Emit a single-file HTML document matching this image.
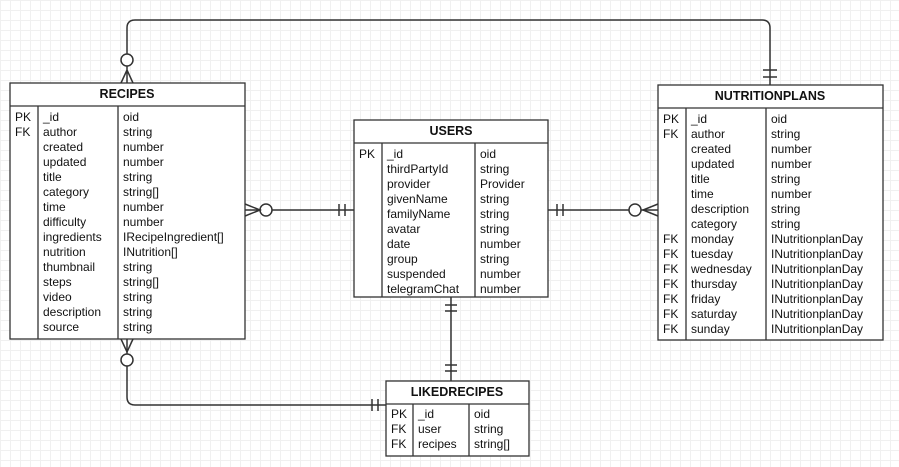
<!DOCTYPE html>
<html><head><meta charset="utf-8"><style>
html,body{margin:0;padding:0;width:899px;height:467px;overflow:hidden;background:#fff;
background-image:linear-gradient(#f0f0f0 1px,transparent 1px),linear-gradient(90deg,#f0f0f0 1px,transparent 1px);background-size:10px 10px;}
svg text{font-family:"Liberation Sans",Arial,sans-serif;font-size:12px;fill:#111;}
svg text.t{font-weight:bold;font-size:12.5px;}
</style></head><body>
<svg width="899" height="467" xmlns="http://www.w3.org/2000/svg">
<g fill="none" stroke="#333" stroke-width="1.5">
<!-- top connector -->
<path d="M127,54 V28 Q127,20 135,20 H762 Q770,20 770,28 V85"/>
<circle cx="127" cy="60" r="6" fill="#fff"/>
<path d="M127,66 V83 M127,70 L121,83 M127,70 L133,83"/>
<path d="M763,70 H777 M763,77 H777"/>
<!-- recipes-users -->
<path d="M245,210 H260 M272,210 H354"/>
<circle cx="266" cy="210" r="6" fill="#fff"/>
<path d="M245,204 L260,210 L245,216"/>
<path d="M339,204 V216 M345,204 V216"/>
<!-- users-nutrition -->
<path d="M548,210 H629 M641,210 H658"/>
<circle cx="635" cy="210" r="6" fill="#fff"/>
<path d="M658,204 L643,210 L658,216"/>
<path d="M557,204 V216 M563,204 V216"/>
<!-- users-liked -->
<path d="M451,297 V381"/>
<path d="M445,305 H457 M445,311 H457 M445,365 H457 M445,371 H457"/>
<!-- recipes-liked -->
<path d="M127,339 V354 M127,366 V397 Q127,405 135,405 H386"/>
<circle cx="127" cy="360" r="6" fill="#fff"/>
<path d="M121,339 L127,352 L133,339"/>
<path d="M372,399 V411 M378,399 V411"/>
</g>
<g fill="#fff" stroke="#333" stroke-width="1.3">
<rect x="10" y="83" width="235" height="256"/>
<rect x="658" y="85" width="225" height="255"/>
<rect x="354" y="120" width="194" height="177"/>
<rect x="386" y="381" width="143" height="75"/>
</g>
<g stroke="#333" stroke-width="1.3">
<path d="M10,106 H245 M38,106 V339 M118,106 V339"/>
<path d="M658,108 H883 M686,108 V340 M766,108 V340"/>
<path d="M354,143 H548 M382,143 V297 M475,143 V297"/>
<path d="M386,404 H529 M413,404 V456 M469,404 V456"/>
</g>
<text class="t" x="127" y="98" text-anchor="middle">RECIPES</text>
<text class="t" x="770" y="100" text-anchor="middle">NUTRITIONPLANS</text>
<text class="t" x="451" y="135" text-anchor="middle">USERS</text>
<text class="t" x="457" y="396" text-anchor="middle">LIKEDRECIPES</text>
<!-- RECIPES -->
<text x="15" y="121">PK</text><text x="15" y="136">FK</text>
<text x="43" y="121">_id</text><text x="43" y="136">author</text><text x="43" y="151">created</text><text x="43" y="166">updated</text><text x="43" y="181">title</text><text x="43" y="196">category</text><text x="43" y="211">time</text><text x="43" y="226">difficulty</text><text x="43" y="241">ingredients</text><text x="43" y="256">nutrition</text><text x="43" y="271">thumbnail</text><text x="43" y="286">steps</text><text x="43" y="301">video</text><text x="43" y="316">description</text><text x="43" y="331">source</text>
<text x="123" y="121">oid</text><text x="123" y="136">string</text><text x="123" y="151">number</text><text x="123" y="166">number</text><text x="123" y="181">string</text><text x="123" y="196">string[]</text><text x="123" y="211">number</text><text x="123" y="226">number</text><text x="123" y="241">IRecipeIngredient[]</text><text x="123" y="256">INutrition[]</text><text x="123" y="271">string</text><text x="123" y="286">string[]</text><text x="123" y="301">string</text><text x="123" y="316">string</text><text x="123" y="331">string</text>
<!-- NUTRITIONPLANS -->
<text x="663" y="123">PK</text><text x="663" y="138">FK</text><text x="663" y="243">FK</text><text x="663" y="258">FK</text><text x="663" y="273">FK</text><text x="663" y="288">FK</text><text x="663" y="303">FK</text><text x="663" y="318">FK</text><text x="663" y="333">FK</text>
<text x="691" y="123">_id</text><text x="691" y="138">author</text><text x="691" y="153">created</text><text x="691" y="168">updated</text><text x="691" y="183">title</text><text x="691" y="198">time</text><text x="691" y="213">description</text><text x="691" y="228">category</text><text x="691" y="243">monday</text><text x="691" y="258">tuesday</text><text x="691" y="273">wednesday</text><text x="691" y="288">thursday</text><text x="691" y="303">friday</text><text x="691" y="318">saturday</text><text x="691" y="333">sunday</text>
<text x="771" y="123">oid</text><text x="771" y="138">string</text><text x="771" y="153">number</text><text x="771" y="168">number</text><text x="771" y="183">string</text><text x="771" y="198">number</text><text x="771" y="213">string</text><text x="771" y="228">string</text><text x="771" y="243">INutritionplanDay</text><text x="771" y="258">INutritionplanDay</text><text x="771" y="273">INutritionplanDay</text><text x="771" y="288">INutritionplanDay</text><text x="771" y="303">INutritionplanDay</text><text x="771" y="318">INutritionplanDay</text><text x="771" y="333">INutritionplanDay</text>
<!-- USERS -->
<text x="359" y="158">PK</text>
<text x="387" y="158">_id</text><text x="387" y="173">thirdPartyId</text><text x="387" y="188">provider</text><text x="387" y="203">givenName</text><text x="387" y="218">familyName</text><text x="387" y="233">avatar</text><text x="387" y="248">date</text><text x="387" y="263">group</text><text x="387" y="278">suspended</text><text x="387" y="293">telegramChat</text>
<text x="480" y="158">oid</text><text x="480" y="173">string</text><text x="480" y="188">Provider</text><text x="480" y="203">string</text><text x="480" y="218">string</text><text x="480" y="233">string</text><text x="480" y="248">number</text><text x="480" y="263">string</text><text x="480" y="278">number</text><text x="480" y="293">number</text>
<!-- LIKEDRECIPES -->
<text x="391" y="418">PK</text><text x="391" y="433">FK</text><text x="391" y="448">FK</text>
<text x="418" y="418">_id</text><text x="418" y="433">user</text><text x="418" y="448">recipes</text>
<text x="474" y="418">oid</text><text x="474" y="433">string</text><text x="474" y="448">string[]</text>
</svg>
</body></html>
